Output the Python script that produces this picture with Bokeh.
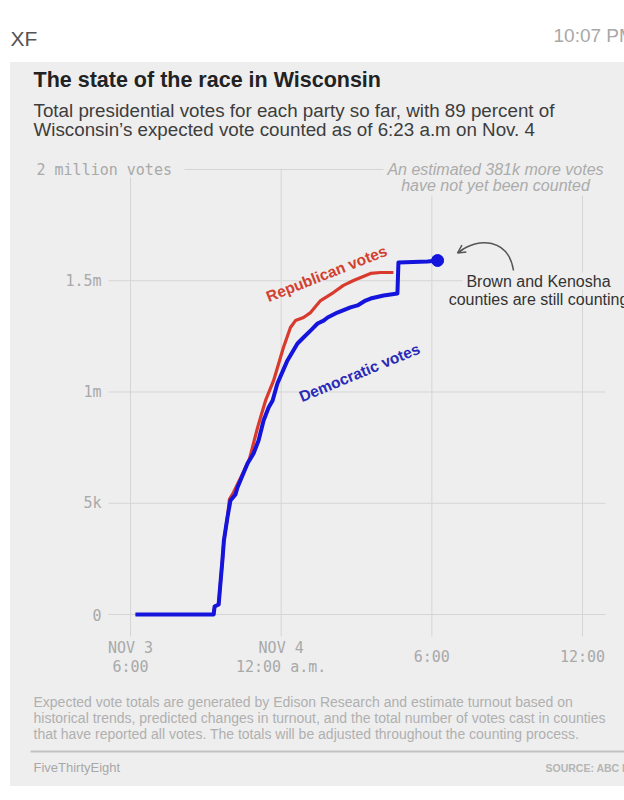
from bokeh.plotting import figure
from bokeh.models import Label, LabelSet, BoxAnnotation, Range1d, Arrow, OpenHead, ColumnDataSource
from bokeh.core.properties import value
from bokeh.embed import file_html
from bokeh.resources import INLINE

# Time axis: hours after 6:00 p.m. on Nov. 3; votes in thousands
dem_hours = [0.20, 3.31, 3.35, 3.51, 3.58, 3.66, 3.72, 3.86, 3.98, 4.18, 4.26, 4.46,
             4.66, 4.90, 5.10, 5.30, 5.50, 5.66, 5.85, 6.25, 6.65, 6.89, 7.17, 7.45,
             7.69, 7.85, 8.24, 8.76, 9.04, 9.36, 9.56, 10.08, 10.63, 10.67, 11.83, 12.23]
dem_votes = [0, 0, 36, 45, 139, 243, 333, 436, 512, 539, 571, 625,
             679, 724, 782, 872, 930, 962, 1038, 1142, 1218, 1245, 1276, 1308,
             1321, 1335, 1357, 1380, 1389, 1411, 1420, 1434, 1443, 1582, 1587, 1591]

rep_hours = [0.20, 3.31, 3.35, 3.51, 3.58, 3.66, 3.72, 3.86, 3.94, 4.10, 4.46, 4.74,
             5.06, 5.26, 5.38, 5.70, 6.09, 6.37, 6.57, 6.89, 7.17, 7.57, 8.08, 8.48,
             8.88, 9.56, 9.96, 10.47]
rep_votes = [0, 0, 36, 45, 139, 243, 333, 436, 518, 548, 632, 700,
             840, 917, 962, 1052, 1200, 1290, 1321, 1335, 1357, 1411, 1447, 1479,
             1501, 1533, 1537, 1537]

latest_hour = [12.23]
latest_dem = [1591]

x_tick_hours = [0, 6, 12, 18]
x_tick_labels = ["NOV 3\n6:00", "NOV 4\n12:00 a.m.", "6:00", "12:00"]
y_tick_votes = [0, 500, 1000, 1500, 2000]
y_tick_labels = ["0", "5k", "1m", "1.5m", ""]

# ---- page geometry (canvas pixels) ----
W, H = 624, 800
PLOT_L, PLOT_R, PLOT_T, PLOT_B = 108, 605, 168, 636
ORIGIN_X, ORIGIN_Y = 130, 614           # canvas position of hour 0 / zero votes
PX_PER_HOUR = (582 - 130) / 18
PX_PER_KVOTE = 222.5 / 1000


def hx(px):
    return (px - ORIGIN_X) / PX_PER_HOUR


def vy(py):
    return (ORIGIN_Y - py) / PX_PER_KVOTE


CARD = "#eeeeee"
GRID = "#d5d5d5"
AXIS_TEXT = "#a9a9a9"
BLUE = "#1414dc"
RED = "#d83a2e"
SANS = "Liberation Sans"
MONO = "DejaVu Sans Mono"

# the frame spans the whole page so every text can sit anywhere on it
p = figure(width=W, height=H,
           x_range=Range1d(hx(0), hx(W)), y_range=Range1d(vy(H), vy(0)),
           x_axis_location=None, y_axis_location=None,
           output_backend="svg", toolbar_location=None,
           min_border=0)
p.border_fill_color = "white"
p.background_fill_color = "white"
p.outline_line_color = None
p.xgrid.visible = False
p.ygrid.visible = False

# card behind the chart and the rule above the credits
p.add_layout(BoxAnnotation(left=hx(10), right=hx(700), top=vy(62), bottom=vy(785),
                           fill_color=CARD, fill_alpha=1, line_color="#dcdcdc",
                           line_width=1, level="image"))
p.add_layout(BoxAnnotation(left=hx(30), right=hx(700), top=vy(750), bottom=vy(752),
                           fill_color="#c2c2c2", fill_alpha=1, line_color=None,
                           level="image"))

# grid lines at the ticks
n_y = len(y_tick_votes)
p.segment(x0=[hx(PLOT_L)] * n_y, x1=[hx(PLOT_R)] * n_y, y0=y_tick_votes, y1=y_tick_votes,
          line_color=GRID, line_width=1, level="underlay")
n_x = len(x_tick_hours)
p.segment(x0=x_tick_hours, x1=x_tick_hours, y0=[vy(PLOT_T)] * n_x, y1=[vy(PLOT_B)] * n_x,
          line_color=GRID, line_width=1, level="underlay")


def mask(l, r, t, b):
    # card-coloured patch that opens a gap in the grid around a text
    p.add_layout(BoxAnnotation(left=hx(l), right=hx(r), top=vy(t), bottom=vy(b),
                               fill_color=CARD, fill_alpha=1, line_color=None,
                               level="glyph"))


mask(100, 184, 158, 177)
mask(383, 607, 158, 195)
mask(462, 607, 272, 289)

# tick labels: two-line labels are split so each line is centred on its tick,
# single-line labels sit midway between the two rows
tx, ty, tt = [], [], []
for hour, text in zip(x_tick_hours, x_tick_labels):
    lines = text.split("\n")
    rows = [647, 666] if len(lines) == 2 else [656]
    for row, line in zip(rows, lines):
        tx.append(hour)
        ty.append(vy(row))
        tt.append(line)
x_src = ColumnDataSource(dict(x=tx, y=ty, text=tt))
p.add_layout(LabelSet(x="x", y="y", text="text", source=x_src, text_align="center",
                      text_baseline="middle", text_font=value(MONO), text_font_size="15px",
                      text_color=AXIS_TEXT))
y_src = ColumnDataSource(dict(x=[hx(101)] * n_y, y=y_tick_votes, text=y_tick_labels))
p.add_layout(LabelSet(x="x", y="y", text="text", source=y_src, text_align="right",
                      text_baseline="middle", text_font=value(MONO), text_font_size="15px",
                      text_color=AXIS_TEXT))

# vote lines
p.line(rep_hours, rep_votes, line_color=RED, line_width=3.2, line_join="round")
p.line(dem_hours, dem_votes, line_color=BLUE, line_width=4, line_join="round")
p.scatter(latest_hour, latest_dem, size=12, color=BLUE)


def label(px, py, text, **kw):
    opts = dict(text_font=SANS, text_baseline="middle", text_align="left")
    opts.update(kw)
    p.add_layout(Label(x=hx(px), y=vy(py), text=text, **opts))


# header outside the card
label(10, 38, "XF", text_font_size="21px", text_color="#555555")
label(553, 35, "10:07 PM", text_font_size="19px", text_color="#a8a8a8")

# titles
label(33, 79, "The state of the race in Wisconsin", text_font_size="21.5px",
      text_font_style="bold", text_color="#222222")
label(33, 110, "Total presidential votes for each party so far, with 89 percent of",
      text_font_size="18.8px", text_color="#3d3d3d")
label(33, 129, "Wisconsin\u2019s expected vote counted as of 6:23 a.m on Nov. 4",
      text_font_size="18.8px", text_color="#3d3d3d")

# top-of-axis texts
label(36, 169, "2 million votes", text_font=MONO, text_font_size="15px",
      text_color=AXIS_TEXT)
label(495, 169, "An estimated 381k more votes", text_align="center",
      text_font_size="16px", text_font_style="italic", text_color="#ababab")
label(495, 185, "have not yet been counted", text_align="center",
      text_font_size="16px", text_font_style="italic", text_color="#ababab")

# series labels
label(326, 273, "Republican votes", text_align="center", text_font_size="15.5px",
      text_font_style="bold", text_color="#d2402f", angle=21.5, angle_units="deg")
label(359, 372, "Democratic votes", text_align="center", text_font_size="15.5px",
      text_font_style="bold", text_color="#2a2ab8", angle=22.5, angle_units="deg")

# note on the latest count
label(538, 281, "Brown and Kenosha", text_align="center", text_font_size="16px",
      text_color="#333333")
label(538, 299, "counties are still counting", text_align="center",
      text_font_size="16px", text_color="#333333")
p.bezier(x0=[hx(513)], y0=[vy(270)], x1=[hx(458)], y1=[vy(252)],
         cx0=[hx(508)], cy0=[vy(238)], cx1=[hx(478)], cy1=[vy(236)],
         line_color="#555555", line_width=1.5)
p.add_layout(Arrow(end=OpenHead(size=8, line_color="#555555", line_width=1.5),
                   x_start=hx(463), y_start=vy(248.5), x_end=hx(457), y_end=vy(252.5),
                   line_color="#555555", line_width=1.5))

# footnote and credits
notes = ["Expected vote totals are generated by Edison Research and estimate turnout based on",
         "historical trends, predicted changes in turnout, and the total number of votes cast in counties",
         "that have reported all votes. The totals will be adjusted throughout the counting process."]
for i, line in enumerate(notes):
    label(33, 701 + 16 * i, line, text_font_size="14px", text_color="#b0b0b0")
label(33, 767, "FiveThirtyEight", text_font_size="13px", text_color="#a8a8a8")
label(545, 767, "SOURCE: ABC NEWS", text_font_size="10.5px", text_font_style="bold",
      text_color="#b5b5b5")

open("out.html", "w").write(file_html(p, INLINE))
